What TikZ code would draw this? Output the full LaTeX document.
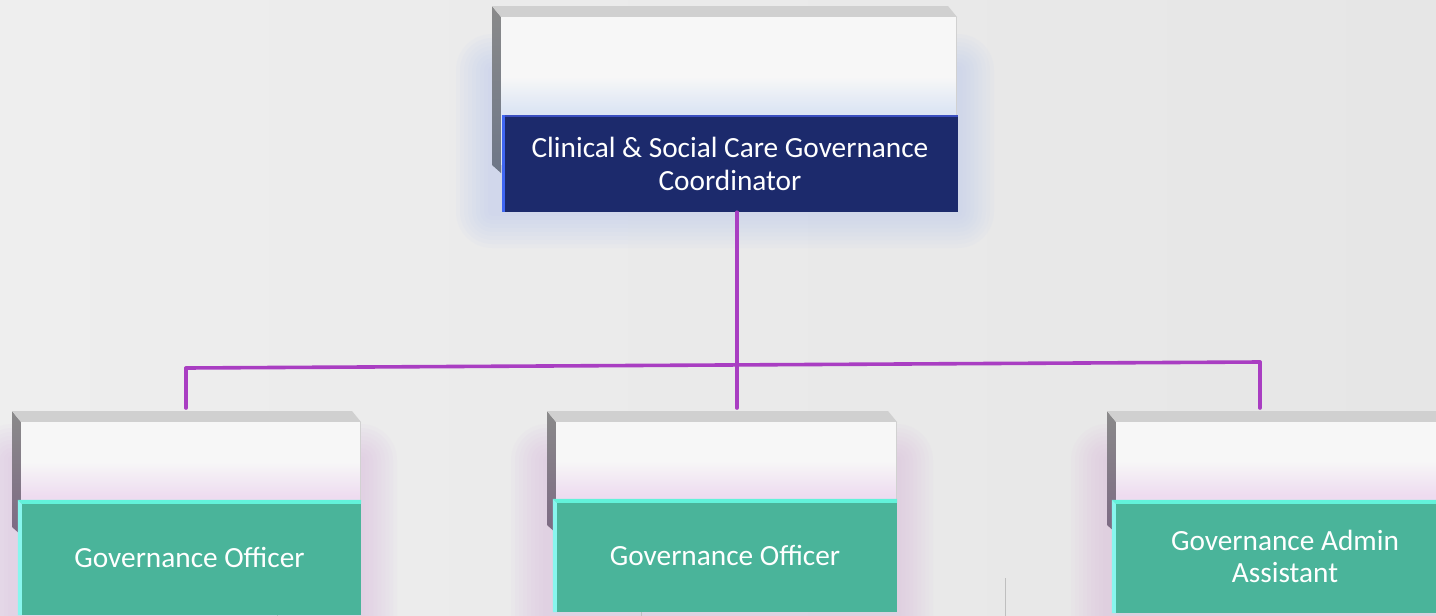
\documentclass[tikz,border=0pt]{standalone}
\usepackage{fontspec}
\setmainfont{Carlito}
\usetikzlibrary{calc}
\definecolor{bgL}{HTML}{EEEEEE}
\definecolor{bgR}{HTML}{E6E6E6}
\definecolor{navy}{HTML}{1C2A6C}
\definecolor{navyTop}{HTML}{3A4FC0}
\definecolor{navyLeft}{HTML}{3F66F2}
\definecolor{teal}{HTML}{4AB49A}
\definecolor{tealTop}{HTML}{62F2DA}
\definecolor{tealLeft}{HTML}{88F6EE}
\definecolor{bevel}{HTML}{D0D0D0}
\definecolor{sideTop}{HTML}{8A8A8A}
\definecolor{sideBlue}{HTML}{6E7788}
\definecolor{sidePink}{HTML}{7D6A84}
\definecolor{faceW}{HTML}{F7F7F7}
\definecolor{tintBlue}{HTML}{DCE5F4}
\definecolor{tintPink}{HTML}{EEDCF0}
\definecolor{glowBlue}{HTML}{B9C9EC}
\definecolor{glowPink}{HTML}{D9B9DF}
\definecolor{conn}{HTML}{A93EC2}
\newcommand\myglow[5]{%
  \foreach \r in {4,8,...,36} {%
    \fill[#5, opacity=0.065, rounded corners=\r pt] (#1-\r,#2-\r) rectangle (#3+\r,#4+\r);
  }%
}
% #1 x0, #2 y0, #3 x1, #4 y1 (side bottom), #5 tint, #6 side bottom colour, #7 y of front box top
\newcommand\mycard[7]{%
  \shade[top color=sideTop, bottom color=#6] (#1,#2) -- (#1+9,#2+11) -- (#1+9,#4+8) -- (#1,#4) -- cycle;
  \fill[bevel] (#1,#2) -- (#3-8,#2) -- (#3+1,#2+11) -- (#1+9,#2+11) -- cycle;
  \fill[faceW] (#1+9,#2+11) rectangle (#3,#4);
  \shade[top color=faceW, bottom color=#5] (#1+9,#7-38) rectangle (#3,#7-4);
  \fill[#5] (#1+9,#7-4) rectangle (#3,#4);
  \draw[black!18, line width=1pt] (#3,#2+11) -- (#3,#4);
}
\tikzset{
  navybox/.style={fill=navy, text=white, minimum width=456pt, minimum height=97pt,
    inner sep=0pt, align=center, font=\fontsize{29.3}{33}\selectfont},
  tealbox/.style={fill=teal, text=white, minimum height=113pt,
    inner sep=0pt, align=center, font=\fontsize{29.3}{32}\selectfont},
  link/.style={draw=conn, line width=3.6pt, line cap=round},
}
\begin{document}
\begin{tikzpicture}[x=1pt,y=-1pt]
\useasboundingbox (0,0) rectangle (1436,616);
\shade[left color=bgL, right color=bgR] (0,0) rectangle (1436,616);

% glows
\myglow{492}{70}{958}{212}{glowBlue}
\myglow{12}{460}{361}{640}{glowPink}
\myglow{547}{460}{897}{640}{glowPink}
\myglow{1107}{460}{1470}{640}{glowPink}

% faint grey lines at the bottom
\draw[black!25, line width=0.8pt] (1005,578) -- (1005,616);
\draw[black!25, line width=0.8pt] (641,610) -- (641,616);
\draw[black!25, line width=0.8pt] (277,612) -- (277,616);

% back cards
\mycard{492}{6}{956}{165}{tintBlue}{sideBlue}{115}
\mycard{12}{411}{360}{527}{tintPink}{sidePink}{500}
\mycard{547}{411}{896}{525}{tintPink}{sidePink}{499}
\mycard{1107}{411}{1460}{525}{tintPink}{sidePink}{499}

\coordinate (p1) at (186,411);
\coordinate (p2) at (737,411);
\coordinate (p3) at (1260,411);

% front boxes
\node[navybox] (top) at (730,163.5) {Clinical \& Social Care Governance\\Coordinator};
\fill[navyTop] (top.north west) rectangle ($(top.north east)+(0,2.5)$);
\fill[navyLeft] (top.north west) rectangle ($(top.south west)+(3,0)$);

\node[tealbox, minimum width=343pt, minimum height=115pt] (g1) at (189.5,557.5) {Governance Officer};
\node[tealbox, minimum width=344pt] (g2) at (725,555.5) {Governance Officer};
\node[tealbox, minimum width=346pt] (g3) at (1285,556.5) {Governance Admin\\Assistant};
\foreach \g in {g1,g2,g3} {
  \fill[tealTop] (\g.north west) -- (\g.north east) -- ($(\g.north east)+(0,4)$) -- ($(\g.north west)+(4,4)$) -- cycle;
  \fill[tealLeft] (\g.north west) -- ($(\g.north west)+(4,4)$) -- ($(\g.south west)+(4,0)$) -- (\g.south west) -- cycle;
}

% connectors
\coordinate (l1) at (186,368);
\coordinate (r1) at (1260,362);
\coordinate (j) at (737,365);
\draw[link] (top.south -| j) -- ($(p2)+(0,-3)$);
\draw[link] (l1) -- (r1);
\draw[link] (l1) -- ($(p1)+(0,-3)$);
\draw[link] (r1) -- ($(p3)+(0,-3)$);
\end{tikzpicture}
\end{document}
